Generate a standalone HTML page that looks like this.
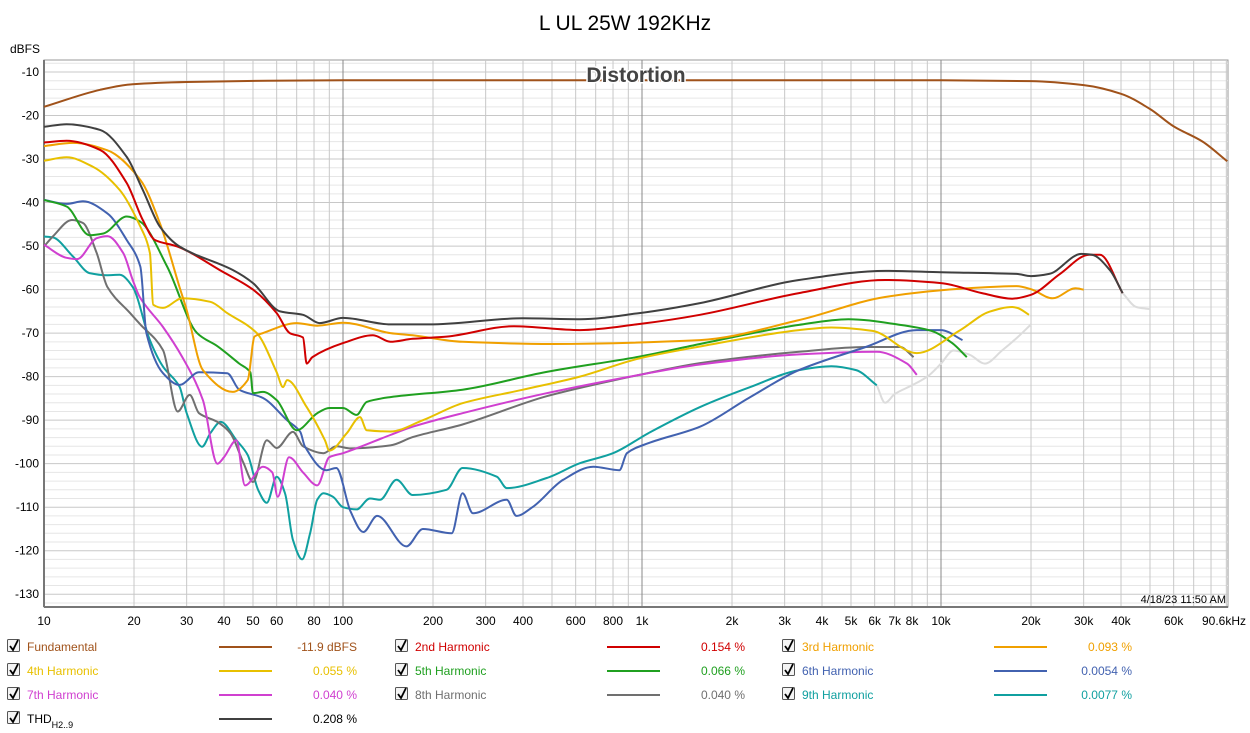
<!DOCTYPE html>
<html><head><meta charset="utf-8">
<style>
body{margin:0;background:#fff;font-family:"Liberation Sans",sans-serif;}
svg{display:block}
text{font-family:"Liberation Sans",sans-serif}
</style></head>
<body>
<svg id="chart" width="1250" height="733" viewBox="0 0 1250 733" xmlns="http://www.w3.org/2000/svg">
<rect x="0" y="0" width="1250" height="733" fill="#fff"/>
<text x="625" y="30" font-size="21" text-anchor="middle" fill="#000">L UL 25W 192KHz</text>
<text x="10" y="53" font-size="12" fill="#000">dBFS</text>
<g id="grid"></g>
<g id="series"></g>
<text x="636" y="82" font-size="21" font-weight="bold" text-anchor="middle" fill="#444" stroke="#fff" stroke-width="3" paint-order="stroke">Distortion</text>
<text x="1226" y="603" font-size="11" text-anchor="end" fill="#000">4/18/23 11:50 AM</text>
<g id="legend"></g>
</svg>
<script>
const xTicks=[10,20,30,40,50,60,80,100,200,300,400,600,800,1000,2000,3000,4000,5000,6000,7000,8000,10000,20000,30000,40000,60000,90600];
const xTickLabels=["10","20","30","40","50","60","80","100","200","300","400","600","800","1k","2k","3k","4k","5k","6k","7k","8k","10k","20k","30k","40k","60k","90.6kHz"];
const yTicks=[-10,-20,-30,-40,-50,-60,-70,-80,-90,-100,-110,-120,-130];

const fundF=[10,15.4,19.8,30,55.6,100,1000,10000,20000,30000,40000,50000,60000,75000,90600];
const fundV=[-18,-14.1,-12.8,-12.3,-12,-11.9,-11.9,-11.9,-12.1,-13,-15,-18.5,-22.5,-26,-30.5];
const thdF=[10,11.9,15.4,18.9,21.4,24.4,28.4,42.8,50,61.6,73.5,83.5,100,144,194,400,620,980,1563,3350,6540,10000,17900,20000,23000,29500,32000,36700,40500];
const thdV=[-22.6,-22,-23.3,-29.5,-37.1,-45.5,-50.1,-55.5,-58.5,-65,-65.8,-67.7,-66.5,-68,-68,-66.6,-66.8,-65.4,-63.1,-57.8,-55.7,-56,-56.4,-56.9,-56.4,-51.8,-52,-55.5,-60.8];
const h2F=[10,11.9,15.4,18.9,21.4,23.5,27.9,39.6,50,60,66.4,73.5,75.6,79,100,126,144,171,222,373,620,980,1563,3350,6500,10000,13700,17300,20000,25000,31300,34000,40500];
const h2V=[-26.2,-25.8,-27.9,-35.5,-44,-48.6,-50.1,-55.9,-60,-65.4,-70,-71,-77,-75.5,-72.3,-70.5,-72,-71.3,-70.8,-68.4,-69.3,-67.9,-65.8,-60.8,-57.8,-58.5,-60.8,-62.1,-61.2,-56.4,-52,-52,-60.8];
const h3F=[10,12.5,16.3,21,24.4,28.4,30,34,42.8,48,50.6,54,70,82,100,144,171,251,500,1563,3350,6500,12200,17900,20000,23600,28200,30000];
const h3V=[-27,-26.3,-28,-34.8,-44.7,-59.4,-64.7,-78.5,-83.5,-80.8,-70.8,-70,-67.7,-68.3,-67.6,-70,-70.5,-72,-72.5,-71.6,-67,-61.7,-59.7,-59.2,-59.9,-62,-59.7,-60];
const h4F=[10,11.9,14.6,17.9,21,22.6,23.2,25,29,36,41,51.5,60,63,65,75.6,87,90,103,114,120,144,185,251,400,620,980,1530,3350,4300,5900,8300,11600,14500,17300,18000,19700];
const h4V=[-30.4,-29.6,-31.8,-37.1,-45.5,-51.6,-63.5,-64.2,-62,-62.8,-65.4,-70,-79,-82.4,-80.8,-87,-94.6,-97,-93,-89.3,-92.3,-92.6,-90,-86.1,-83,-80,-75.8,-73.2,-69.3,-68.7,-69.5,-74.6,-69.3,-65.1,-64,-64.2,-65.8];
const h5F=[10,11.9,14.2,15.8,18.9,21,25.8,32.5,38,45,49,50,54,60,70,82,90,100,111,120,144,251,480,980,1563,3350,4900,7300,9300,10900,12200];
const h5V=[-39.4,-40.9,-47.5,-47.1,-43.2,-44.4,-54.7,-70,-73,-77,-79,-83.8,-83.5,-85.4,-92.3,-88.4,-87.2,-87.2,-88.8,-85.8,-84.7,-83,-78.9,-75.4,-72.5,-68.1,-66.8,-68.1,-69.5,-72.3,-75.5];
const h6F=[10,11.9,13.5,16.3,18.9,21,22,25,28.4,33,41,45,54,65,72,74.5,88,95,106,117,130,163,185,231,251,272,353,380,430,545,687,840,890,1050,1563,2300,3350,5600,8300,10000,11800];
const h6V=[-39.4,-40.3,-39.7,-42.5,-48.6,-54.7,-70,-79.2,-81.9,-79,-79.2,-83,-84.9,-90,-92.7,-96,-101.5,-101,-111,-115.7,-112,-119,-115,-116,-106.8,-111.4,-108.3,-112,-110,-103.7,-100.7,-101.5,-97.6,-95.3,-91.5,-84.7,-78.5,-73.2,-69.3,-69.3,-71.6];
const h7F=[10,11.9,12.9,15,16.3,18.4,19.8,20.9,25,29,34,38,40,44,47,54,58,60.5,66,73.5,82,90,100,144,171,251,480,980,1563,3350,6100,7700,8300];
const h7V=[-49.7,-52.7,-53,-48.2,-47.7,-51.6,-57.8,-61.7,-68.6,-75.5,-85.4,-100,-98.5,-94.6,-105,-100.7,-102,-107.6,-98.5,-102,-105,-98.5,-97.6,-93.4,-91.5,-88.4,-83.8,-79.6,-77.2,-74.9,-74.3,-77,-79.6];
const h8F=[10,10.7,12.4,13.5,15,16.3,19.4,21,25,28,30.7,33,38,42,46.5,50,55.6,60,68,73.5,86,95,106,144,171,251,480,980,1563,3350,5600,7300,8100];
const h8V=[-50.1,-47.8,-44,-44.7,-51.6,-59.4,-65.4,-68,-73.9,-88,-84.2,-88.4,-90.4,-93,-99.9,-104.2,-94.6,-96.4,-92.7,-96,-97.6,-96,-96.5,-95.8,-93.9,-91,-84.5,-79.6,-76.9,-74.3,-73.2,-73.2,-75.5];
const h9F=[10,10.7,12.5,14.2,16.2,17.9,19.8,22.6,25,28.4,30,33.8,36,39,44,48,52,55.6,60,64,68,73,77.6,82,86,92.5,100,111,123,133,151,171,222,251,327,353,480,620,800,1050,1563,2300,3350,4300,5200,6100];
const h9V=[-47.8,-48,-52.4,-56.2,-56.7,-56.6,-59.4,-71.6,-77.7,-82.3,-88.4,-96.1,-93,-90.4,-94.6,-98,-106,-109,-103,-106.8,-117.5,-122,-116,-108.3,-106.8,-107.6,-110,-110.5,-108,-108.3,-103.7,-107.2,-106,-101,-103,-105.6,-103.3,-99.9,-97.6,-93,-87,-82.4,-78.5,-77.6,-78.5,-82];
const extF=[6100,6500,7000,8000,9000,10000,11000,12500,14000,16000,18000,20000];
const extV=[-82,-86,-84,-82,-80,-77,-74,-75,-77,-74,-71,-68];
const ext2F=[40500,45000,50000];
const ext2V=[-60.8,-64,-64.5];

const X0=44,X1=1228,Y0=60,Y1=607,PXD=299;
function xs(f){return X0+(Math.log10(f)-1)*PXD;}
function ys(v){return 72+(-10-v)*4.352;}
const NS="http://www.w3.org/2000/svg";
function mk(tag,attrs,parent){const e=document.createElementNS(NS,tag);for(const k in attrs)e.setAttribute(k,attrs[k]);parent.appendChild(e);return e;}

const grid=document.getElementById('grid');
mk('rect',{x:X0,y:Y0,width:X1-X0,height:Y1-Y0,fill:'#fff',stroke:'#999','stroke-width':1},grid);
for(let v=-8;v>=-132;v-=2){if(v%10===0)continue;const y=ys(v);if(y<Y0||y>Y1)continue;
 mk('line',{x1:X0,x2:X1,y1:y,y2:y,stroke:'#e6e6e6','stroke-width':1},grid);}
for(const v of yTicks){const y=ys(v);
 mk('line',{x1:X0,x2:X1,y1:y,y2:y,stroke:'#c8c8c8','stroke-width':1},grid);
 const t=mk('text',{x:39,y:y+4,'font-size':12,'text-anchor':'end',fill:'#000'},grid);t.textContent=v;
 
 }
for(let d=10;d<=10000;d*=10){for(let m=1;m<=9;m++){const f=d*m;const x=xs(f);if(x>X1)break;
 const major=(m===1&&(f===100||f===1000||f===10000));
 mk('line',{x1:x,x2:x,y1:Y0,y2:Y1,stroke:major?'#888':'#c8c8c8','stroke-width':1},grid);}}
xTicks.forEach((f,i)=>{const t=mk('text',{x:xs(f),y:625,'font-size':12,'text-anchor':'middle',fill:'#000'},grid);
 if(i===xTicks.length-1){t.setAttribute('x',1246);t.setAttribute('text-anchor','end');}
 t.textContent=xTickLabels[i];
 
 });
mk('line',{x1:X0,x2:X0,y1:Y0,y2:Y1,stroke:'#777','stroke-width':2},grid);
mk('line',{x1:X0,x2:X1,y1:Y1,y2:Y1,stroke:'#777','stroke-width':2},grid);

function pathFor(F,V){const p=F.map((f,i)=>[xs(f),ys(V[i])]);const n=p.length;
 const d=[],m=new Array(n);
 for(let i=0;i<n-1;i++)d.push((p[i+1][1]-p[i][1])/(p[i+1][0]-p[i][0]));
 m[0]=d[0];m[n-1]=d[n-2];
 for(let i=1;i<n-1;i++){m[i]=(d[i-1]*d[i]<=0)?0:2/(1/d[i-1]+1/d[i]);}
 let s='M'+p[0][0].toFixed(1)+','+p[0][1].toFixed(1);
 for(let i=0;i<n-1;i++){const h=(p[i+1][0]-p[i][0])/3;
  s+=' C'+(p[i][0]+h).toFixed(1)+','+(p[i][1]+m[i]*h).toFixed(1)+' '+(p[i+1][0]-h).toFixed(1)+','+(p[i+1][1]-m[i+1]*h).toFixed(1)+' '+p[i+1][0].toFixed(1)+','+p[i+1][1].toFixed(1);}
 return s;}
const series=[
 {n:'ext-gray',F:extF,V:extV,c:'#dcdcdc'},
 {n:'ext-gray-2',F:ext2F,V:ext2V,c:'#dcdcdc'},
 {n:'fundamental',F:fundF,V:fundV,c:'#a0521a'},
 {n:'h9',F:h9F,V:h9V,c:'#10a0a0'},
 {n:'h8',F:h8F,V:h8V,c:'#707070'},
 {n:'h7',F:h7F,V:h7V,c:'#d040d0'},
 {n:'h6',F:h6F,V:h6V,c:'#4262b0'},
 {n:'h5',F:h5F,V:h5V,c:'#20a020'},
 {n:'h4',F:h4F,V:h4V,c:'#e8c000'},
 {n:'h3',F:h3F,V:h3V,c:'#f0a000'},
 {n:'h2',F:h2F,V:h2V,c:'#d00000'},
 {n:'thd',F:thdF,V:thdV,c:'#404040'}];
const sg=document.getElementById('series');
for(const s of series){const p=mk('path',{d:pathFor(s.F,s.V),fill:'none',stroke:s.c,'stroke-width':2,'stroke-linejoin':'round'},sg);
 
 }

const legendNames=[['Fundamental','#a0521a','-11.9 dBFS'],['2nd Harmonic','#d00000','0.154 %'],['3rd Harmonic','#f0a000','0.093 %'],
 ['4th Harmonic','#e8c000','0.055 %'],['5th Harmonic','#20a020','0.066 %'],['6th Harmonic','#4262b0','0.0054 %'],
 ['7th Harmonic','#d040d0','0.040 %'],['8th Harmonic','#707070','0.040 %'],['9th Harmonic','#10a0a0','0.0077 %'],
 ['THD','#404040','0.208 %']];
const lg=document.getElementById('legend');
const colX=[7,395,782];
legendNames.forEach((e,i)=>{const cx=colX[i%3],y=646+Math.floor(i/3)*24;
 const g=mk('g',{},lg);
 
 
 mk('rect',{x:cx+0.5,y:y-6.5,width:12,height:12,fill:'#f4f4f4',stroke:'#555','stroke-width':1,rx:1},g);
 mk('path',{d:`M${cx+3},${y} L${cx+6},${y+4} L${cx+11},${y-6}`,fill:'none',stroke:'#000','stroke-width':1.8},g);
 const tc=e[0]==='THD'?'#000':e[1];
 const t=mk('text',{x:cx+20,y:y+5,'font-size':12,fill:tc},g);
 if(e[0]==='THD'){t.innerHTML='THD<tspan font-size="9" dy="5">H2..9</tspan>';}else t.textContent=e[0];
 mk('line',{x1:cx+212,x2:cx+265,y1:y+1,y2:y+1,stroke:e[1],'stroke-width':2},g);
 const v=mk('text',{x:cx+350,y:y+5,'font-size':12,'text-anchor':'end',fill:e[0]==='THD'?'#000':e[1]},g);v.textContent=e[2];
});
</script>
</body></html>
